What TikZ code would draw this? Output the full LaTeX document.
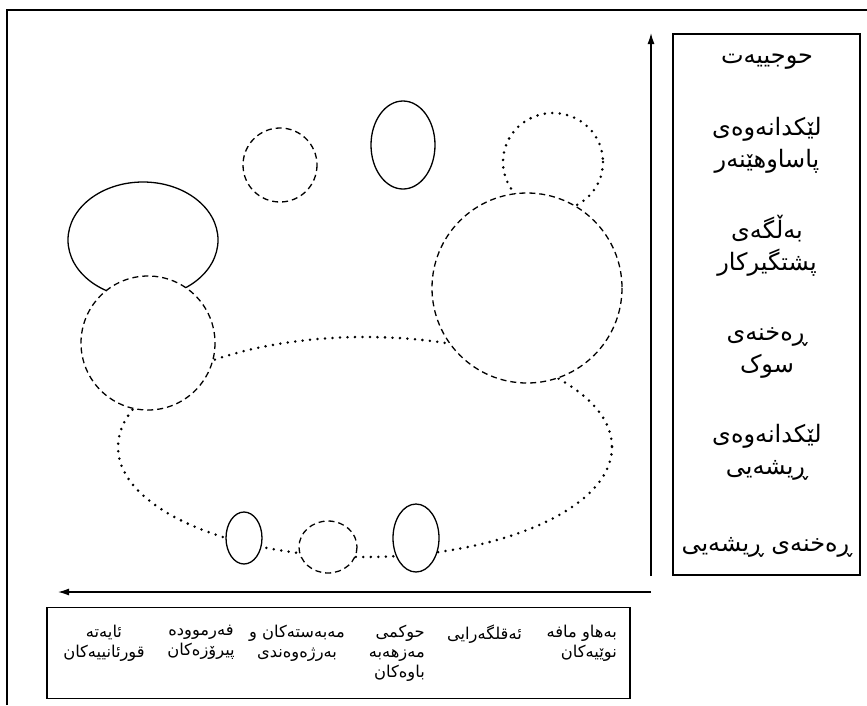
\documentclass[tikz,border=0pt]{standalone}
\usepackage{fontspec}
\usetikzlibrary{arrows.meta}
\newfontfamily\arabicfont[Script=Arabic]{DejaVu Sans}
\TeXXeTstate=1
\newcommand{\kur}[1]{\beginR #1\endR}
\begin{document}
\begin{tikzpicture}[x=1pt,y=-1pt,
  solidshape/.style={draw=black,line width=1.3pt,fill=white},
  dashshape/.style={draw=black,line width=1.3pt,fill=white,dash pattern=on 6pt off 4pt},
  dotshape/.style={draw=black,line width=2.8pt,line cap=round,dash pattern=on 0pt off 7.5pt},
  framebox/.style={draw=black,line width=1.4pt},
  paneltext/.style={font=\arabicfont\fontsize{24}{32}\selectfont,align=center,inner sep=0pt},
  boxtext/.style={font=\arabicfont\fontsize{16.3}{20}\selectfont,inner sep=0pt},
  axis/.style={draw=black,line width=1.3pt,-{Latex[length=11pt,width=7pt]}}
]
\useasboundingbox (0,0) rectangle (867,705);
% outer frame (top and left)
\coordinate (fl) at (7,705);
\coordinate (ftl) at (7,10);
\coordinate (ftr) at (867,10);
\draw[line width=1.8pt] (fl) -- (ftl) -- (ftr);
% big dotted ellipse (behind)
\draw[dotshape] (365,447) ellipse[x radius=247,y radius=110];
% top-right dotted circle
\draw[dotshape] (553,162) ellipse[x radius=50,y radius=49];
% left solid ellipse
\draw[solidshape] (143,240) ellipse[x radius=75,y radius=58];
% left dashed circle
\draw[dashshape] (148,343) circle[radius=67];
% top dashed circle
\draw[dashshape] (280,165) circle[radius=37];
% top solid ellipse
\draw[solidshape] (403,145) ellipse[x radius=32,y radius=44];
% big right dashed circle
\draw[dashshape] (527,288) circle[radius=95];
% small bottom ellipses
\draw[solidshape] (244,538) ellipse[x radius=18,y radius=26];
\draw[dashshape] (328,547) ellipse[x radius=29,y radius=26];
\draw[solidshape] (416,538) ellipse[x radius=23,y radius=34];
% right panel
\node[framebox,minimum width=187pt,minimum height=541pt,inner sep=0pt] (panel) at (766.5,304.5) {};
\node[paneltext] (p1) at (767,62) {\kur{حوجییەت}};
\node[paneltext] (p2) at (767,145) {\kur{لێکدانەوەی}\\\kur{پاساوهێنەر}};
\node[paneltext] (p3) at (767,246) {\kur{بەڵگەی}\\\kur{پشتگیرکار}};
\node[paneltext] (p4) at (767,353) {\kur{ڕەخنەی}\\\kur{سوک}};
\node[paneltext] (p5) at (767,452) {\kur{لێکدانەوەی}\\\kur{ڕیشەیی}};
\node[paneltext] (p6) at (767,547) {\kur{ڕەخنەی ڕیشەیی}};
% axes
\coordinate (origin) at (651,576);
\coordinate (ytop) at (651,33);
\coordinate (hstart) at (651,592);
\coordinate (hend) at (58,592);
\draw[axis] (origin) -- (ytop);
\draw[axis] (hstart) -- (hend);
% bottom box
\node[framebox,minimum width=583pt,minimum height=91pt,inner sep=0pt] (bottombox) at (338.5,653) {};
\node[boxtext,align=right,anchor=north east] (b1) at (617,625) {\kur{بەهاو مافە}\\\kur{نوێیەکان}};
\node[boxtext,align=right,anchor=north east] (b2) at (522,625) {\kur{ئەقلگەرایی}};
\node[boxtext,align=right,anchor=north east] (b3) at (425,625) {\kur{حوکمی}\\\kur{مەزهەبە}\\\kur{باوەکان}};
\node[boxtext,align=center,anchor=north] (b4) at (297,625) {\kur{مەبەستەکان و}\\\kur{بەرژەوەندی}};
\node[boxtext,align=center,anchor=north] (b5) at (201,625) {\kur{فەرموودە}\\\kur{پیرۆزەکان}};
\node[boxtext,align=center,anchor=north] (b6) at (104,625) {\kur{ئایەتە}\\\kur{قورئانییەکان}};
\end{tikzpicture}
\end{document}
